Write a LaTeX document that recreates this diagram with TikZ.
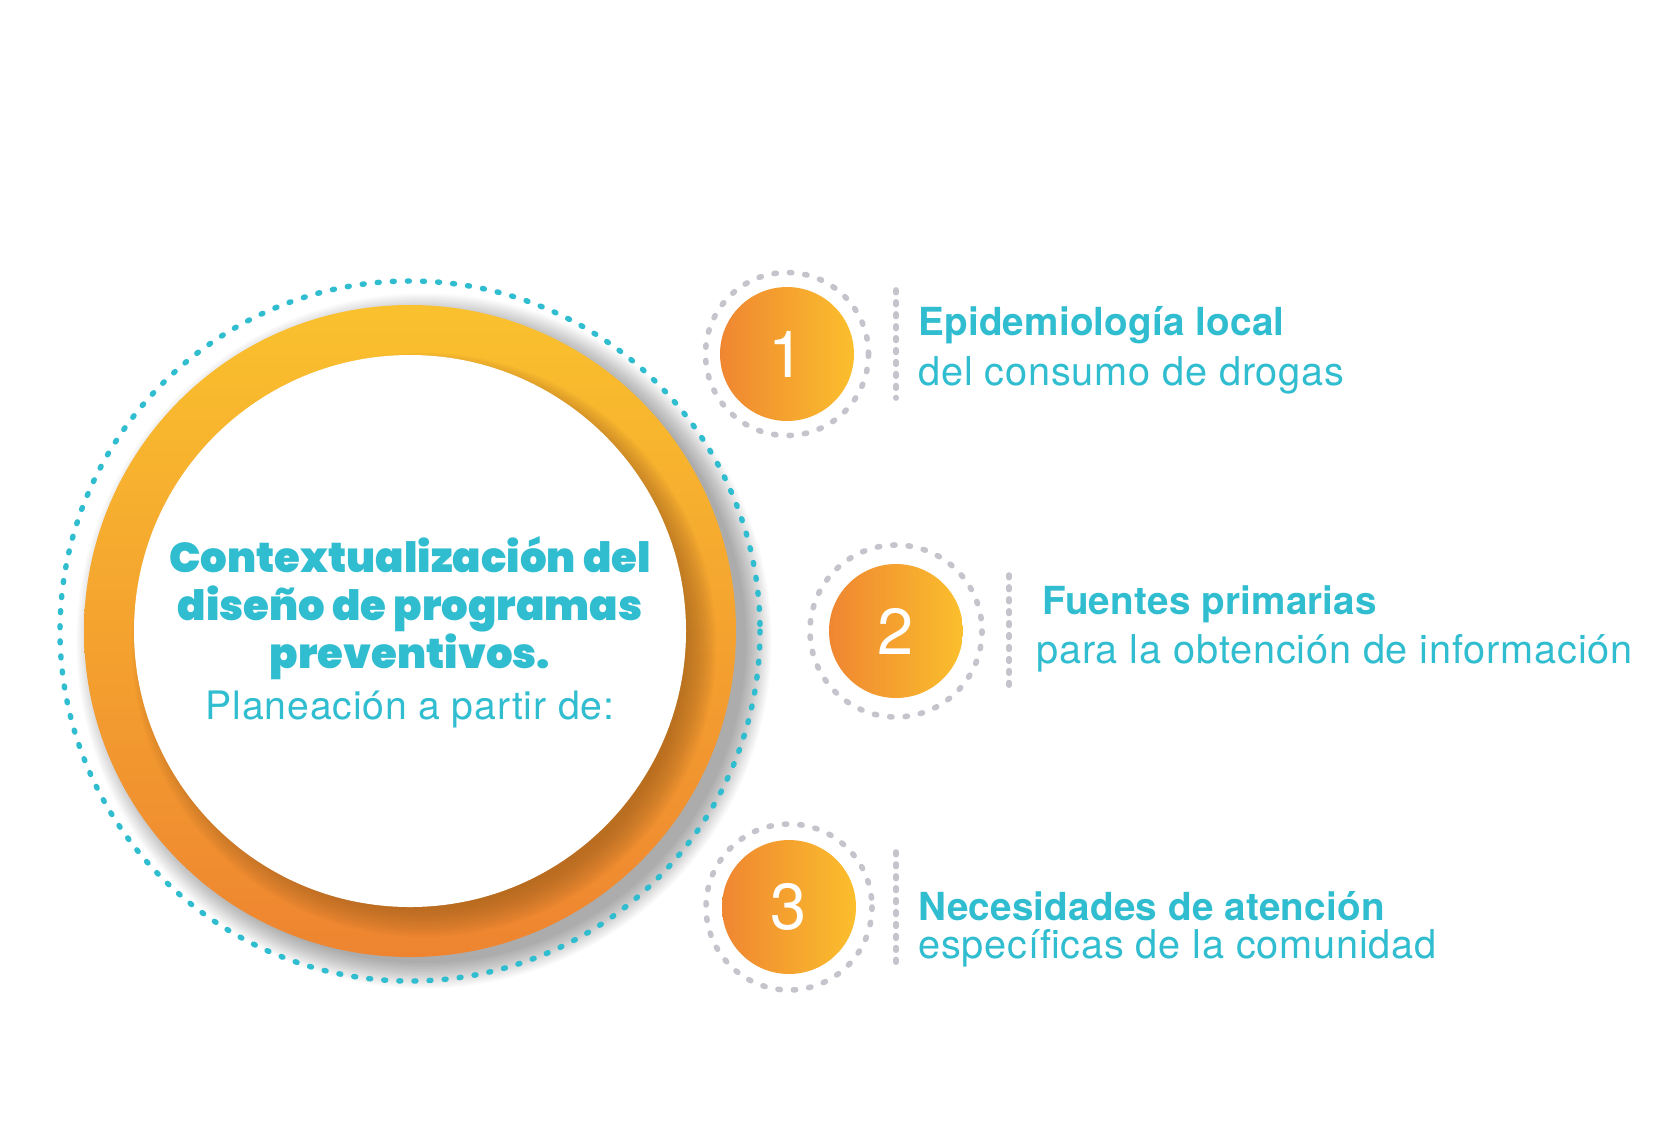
\documentclass[tikz,border=0pt]{standalone}
\usepackage{fontspec}
\setmainfont{TeX Gyre Heros}
\newfontfamily\titlefont{Poppins Black}
\newfontfamily\itemfont{TeX Gyre Heros}[LetterSpace=2]
\newfontfamily\planfont{TeX Gyre Heros}[LetterSpace=2]
\newfontfamily\itemboldfont{TeX Gyre Heros Bold}[LetterSpace=0.5]
\definecolor{turq}{HTML}{31BDD0}
\definecolor{dotgray}{HTML}{C5C4CC}
\definecolor{ringtop}{HTML}{FAC12E}
\definecolor{ringbot}{HTML}{EE8430}
\definecolor{diskl}{HTML}{EF8631}
\definecolor{diskr}{HTML}{FBBF2D}
\definecolor{shadebrown}{HTML}{A0601F}
\tikzset{
  numdisk/.style={circle, minimum size=2.68cm, inner sep=0pt, left color=diskl, right color=diskr, text=white, font=\fontsize{37}{37}\selectfont},
  dotring/.style={draw=dotgray, line width=3.2pt, line cap=round, dash pattern=on 1.3pt off 7.5pt},
  vline/.style={draw=dotgray, line width=3.2pt, line cap=round, dash pattern=on 1.5pt off 5.3pt},
  itemb/.style={anchor=base west, inner sep=0pt, text=turq, font=\itemboldfont\fontsize{22}{22}\selectfont},
  itemr/.style={anchor=base west, inner sep=0pt, text=turq, font=\itemfont\fontsize{22.6}{22.6}\selectfont},
  ttl/.style={anchor=base, inner sep=0pt, text=turq, font=\titlefont\fontsize{23.8}{23.8}\selectfont},
}
\begin{document}
\begin{tikzpicture}[x=0.02cm, y=-0.02cm]
\useasboundingbox[fill=white] (0,0) rectangle (1653,1134);
% drop shadow of the big ring
\foreach \k in {0,...,17}
  \fill[black, opacity=0.018] (424,641) circle ({322+1.5*\k});
% ring
\shade[top color=ringtop, bottom color=ringbot] (410,631) circle (326);
\begin{scope}
\clip (410,631) circle (326);
\foreach \k in {0,...,15}
  \fill[shadebrown, opacity=0.06] (424,645) circle ({262+2*\k});
\end{scope}
\fill[white] (410,631) circle (276);
\draw[turq, line width=3.1pt, line cap=round, dash pattern=on 1.1pt off 7.5pt] (410,631) circle (350);

\node[ttl] (c1) at (410,572) {Contextualización del};
\node[ttl] (c2) at (410,620) {diseño de programas};
\node[ttl] (c3) at (410,668) {preventivos.};
\node[anchor=base, inner sep=0pt, text=turq, font=\planfont\fontsize{22.3}{22.3}\selectfont] (c4) at (410,719) {Planeación a partir de:};

% numbered items
\node[numdisk] (n1) at (787,354) {1};
\node[numdisk] (n2) at (896,631) {2};
\node[numdisk] (n3) at (789,907) {3};
\draw[dotring] (n1.center) circle (81.5);
\draw[dotring] (n2.center) circle (86);
\draw[dotring] (n3.center) circle (83);
\draw[vline] (896,290)--(896,398);
\draw[vline] (1009,575)--(1009,686);
\draw[vline] (896,852)--(896,963);

\node[itemb] (e1) at (918,335) {Epidemiología local};
\node[itemr] (e1b) at (918,385) {del consumo de drogas};
\node[itemb] (e2) at (1042,614) {Fuentes primarias};
\node[itemr] (e2b) at (1036,663) {para la obtención de información};
\node[itemb] (e3) at (918,920) {Necesidades de atención};
\node[itemr] (e3b) at (918,958) {específicas de la comunidad};

\end{tikzpicture}
\end{document}
